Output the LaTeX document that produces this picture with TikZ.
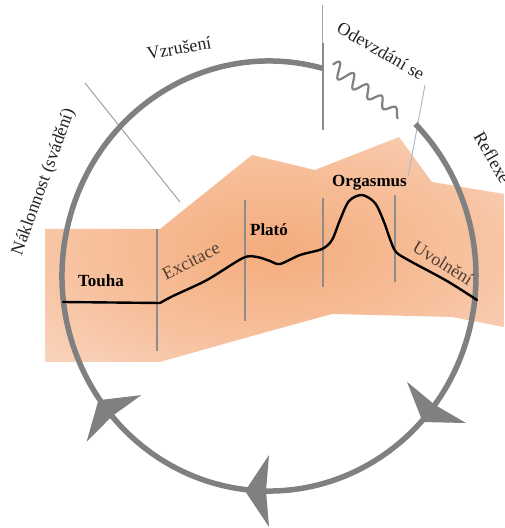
\documentclass[tikz,border=0pt]{standalone}
\usepackage{fontspec}
\setmainfont{Liberation Serif}
\definecolor{cycgray}{RGB}{128,128,128}
\definecolor{divgray}{RGB}{140,140,140}
\definecolor{guidegray}{RGB}{160,160,160}
\definecolor{guideblue}{RGB}{176,184,200}
\definecolor{pk1}{RGB}{244,172,124}
\definecolor{pk2}{RGB}{247,194,160}
\definecolor{pk3}{RGB}{252,226,212}
\definecolor{txtbrown}{RGB}{80,62,50}
\definecolor{txtdark}{RGB}{35,35,35}
\pgfdeclareradialshading{peachsh}{\pgfpoint{0bp}{0bp}}{color(0bp)=(pk1); color(22bp)=(pk2); color(46bp)=(pk3); color(50bp)=(pk3)}
\tikzset{
  cyc/.style={draw=cycgray, line width=5.5pt},
  cycfill/.style={fill=cycgray},
  divider/.style={draw=divgray, line width=1.1pt},
  guide/.style={draw=guidegray, line width=1pt},
  guidelt/.style={draw=guideblue, line width=1pt},
  curveline/.style={draw=black, line width=2.4pt, line cap=round, line join=round},
  wavy/.style={draw=cycgray, line width=2.2pt, line cap=round, line join=round},
  lbl/.style={font=\fontsize{18}{21}\selectfont, text=txtdark, inner sep=0pt},
  phase/.style={font=\fontsize{17}{20}\selectfont\bfseries, text=black, inner sep=0pt}
}
\begin{document}
\begin{tikzpicture}[x=1pt,y=1pt]
\clip (0,0) rectangle (504,528);
% peach band
\shade[shading=peachsh] (45,299) -- (160,299) -- (252,373) -- (315,358) -- (399,391) -- (432,346) -- (504,334) -- (504,201) -- (452,211) -- (332,214) -- (252,192) -- (160,166) -- (45,166) -- cycle;
% dividers
\draw[divider] (157,299) -- (157,177);
\draw[divider] (245,328) -- (245,207);
\draw[divider] (323,330) -- (323,241);
\draw[divider] (395,333) -- (395,246);
% guide lines
\draw[guide] (85,445) -- (180,326);
\draw[guide] (322.5,523) -- (322.5,398);
\draw[draw=divgray, line width=2pt] (322.5,485) -- (322.5,398);
\draw[guidelt] (425,443) -- (408,351);
% cycle
\draw[cyc] ({269+207*cos(75)},{252+215*sin(75)}) arc[start angle=75, end angle=405, x radius=207, y radius=215];
\foreach \t in {221.5,270,324}{
  \pgfmathsetmacro\mx{269+207*cos(\t)}
  \pgfmathsetmacro\my{252+215*sin(\t)}
  \pgfmathsetmacro\tx{2.07*sin(\t)}
  \pgfmathsetmacro\ty{-2.15*cos(\t)}
  \pgfmathsetmacro\tn{sqrt(\tx*\tx+\ty*\ty)}
  \pgfmathsetmacro\ux{\tx/\tn}
  \pgfmathsetmacro\uy{\ty/\tn}
  \fill[cycfill] ({\mx+24*\ux},{\my+24*\uy}) -- ({\mx-36*\uy},{\my+36*\ux}) -- ({\mx+3*\ux},{\my+3*\uy}) -- ({\mx+36*\uy},{\my-36*\ux}) -- cycle;
}
% wavy line
\begin{scope}[shift={(332,462)}, rotate=-36]
\draw[wavy] plot[domain=0:84, samples=120, smooth] (\x,{(8-0.05*\x)*sin(\x*20+15)});
\end{scope}
% response curve
\draw[curveline] (63,226) -- (160,225);
\draw[curveline] plot[smooth, tension=0.5] coordinates {(160,225) (173,232) (207,248) (243,270) (257,271) (270,267) (280,264) (300,273) (322,279) (332,288) (340,308) (349,327) (362,333) (375,325) (384,306) (390,289) (396,276) (410,267) (447,247) (477,228)};
% labels
\node[phase, anchor=base] (touha) at (101,241) {Touha};
\node[phase, anchor=base] (plato) at (269,292) {Plató};
\node[phase, anchor=base] (orgasmus) at (369.5,341) {Orgasmus};
\node[lbl, text=txtbrown, rotate=27] (excitace) at (191,267) {Excitace};
\node[lbl, text=txtbrown, rotate=-32] (uvolneni) at (443,265) {Uvolnění};
\node[lbl, rotate=10] (vzruseni) at (179,480) {Vzrušení};
\node[lbl, rotate=-30] (odevzdani) at (381,477) {Odevzdání se};
\node[lbl, rotate=70] (naklonnost) at (44,346) {Náklonnost (svádění)};
\node[lbl, rotate=-60, anchor=west] (reflexe) at (478.5,395) {Reflexe};
\end{tikzpicture}
\end{document}
